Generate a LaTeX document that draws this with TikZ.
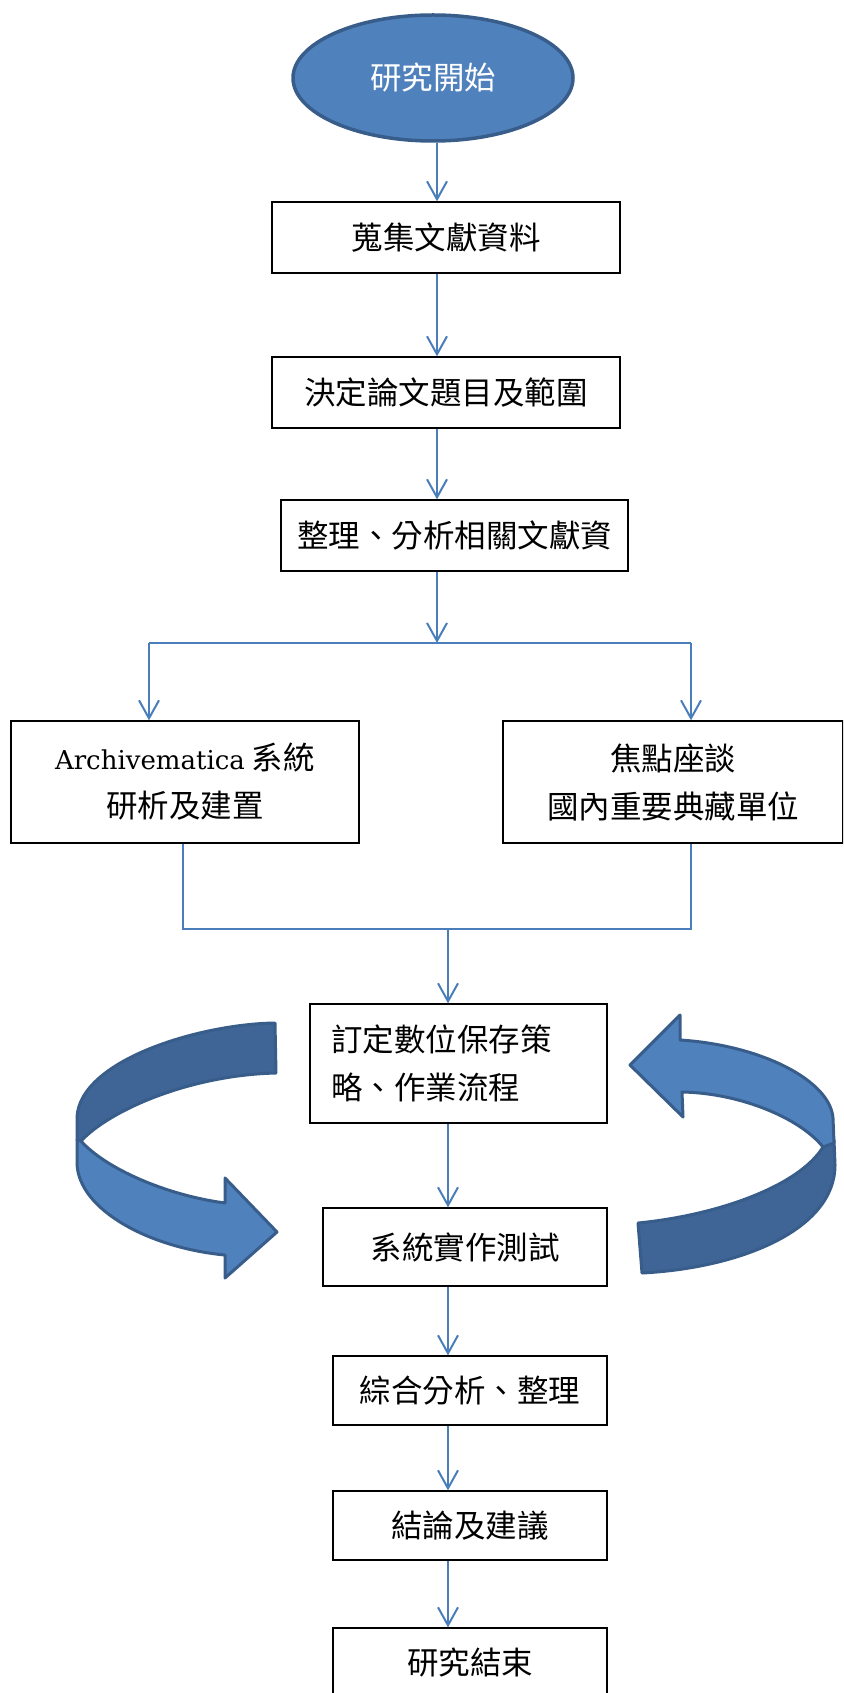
\documentclass[tikz,border=0pt]{standalone}
\usepackage{fontspec}
\newfontfamily\cjk{Noto Sans CJK TC}
\newfontfamily\latinserif{DejaVu Serif}
\usetikzlibrary{shapes.geometric,arrows.meta}
\definecolor{conn}{HTML}{4A7EBB}
\definecolor{fillblue}{HTML}{4F81BD}
\definecolor{darkblue}{HTML}{3E6595}
\definecolor{edgeblue}{HTML}{385D8A}
\tikzset{
  box/.style={draw=black, line width=1.3pt, fill=white, inner sep=0pt,
    font=\cjk\fontsize{31.5}{48}\selectfont},
  arr/.style={draw=conn, line width=2pt, -{Straight Barb[length=18pt,width=20pt]}},
  ln/.style={draw=conn, line width=1.6pt},
  band/.style={draw=edgeblue, line width=3pt, line join=round},
}
\begin{document}
\begin{tikzpicture}[x=1pt,y=-1pt]
\useasboundingbox (0,0) rectangle (843,1693);
\clip (0,0) rectangle (843,1693);

% curved arrows
\draw[band, fill=darkblue] (275,1023) .. controls (200,1024) and (80,1060) .. (77,1117)
  -- (77,1140) -- (81,1141) .. controls (110,1110) and (190,1075) .. (276,1073) -- cycle;
\draw[band, fill=fillblue] (81,1141) .. controls (105,1168) and (165,1195) .. (225,1203)
  -- (225,1178) -- (277,1232) -- (225,1278) -- (225,1255)
  .. controls (150,1248) and (78,1210) .. (77,1163) -- (77,1140) -- cycle;

\draw[band, fill=darkblue] (823,1147) .. controls (800,1185) and (720,1215) .. (638,1223)
  -- (642,1273) .. controls (740,1268) and (835,1230) .. (835,1165) -- (834,1140) -- cycle;
\draw[band, fill=fillblue] (680,1040) .. controls (760,1045) and (830,1080) .. (833,1118)
  -- (834,1143) -- (823,1147) .. controls (800,1118) and (740,1093) .. (682,1092)
  -- (683,1117) -- (630,1065) -- (680,1015) -- cycle;

% nodes
\node[ellipse, draw=edgeblue, line width=3.5pt, fill=fillblue, minimum width=280pt,
  minimum height=126pt, inner sep=0pt, text=white, font=\cjk\fontsize{31.5}{36}\selectfont]
  (start) at (433,78) {研究開始};
\node[box, minimum width=348pt, minimum height=71pt] (b1) at (446,237.5) {蒐集文獻資料};
\node[box, minimum width=348pt, minimum height=71pt] (b2) at (446,392.5) {決定論文題目及範圍};
\node[box, minimum width=347pt, minimum height=71pt] (b3) at (454.5,535.5) {整理、分析相關文獻資};
\node[box, minimum width=348pt, minimum height=122pt, align=center] (ar) at (185,782)
  {{\latinserif\fontsize{26}{48}\selectfont Archivematica} 系統\\研析及建置};
\node[box, minimum width=340pt, minimum height=122pt, align=center] (fg) at (673,782)
  {焦點座談\\國內重要典藏單位};
\node[box, minimum width=297pt, minimum height=119pt, text width=255pt, align=left] (b4)
  at (458.5,1063.5) {訂定數位保存策\\略、作業流程};
\node[box, minimum width=284pt, minimum height=78pt] (b5) at (465,1247) {系統實作測試};
\node[box, minimum width=274pt, minimum height=69pt] (b6) at (470,1390.5) {綜合分析、整理};
\node[box, minimum width=274pt, minimum height=69pt] (b7) at (470,1525.5) {結論及建議};
\node[box, minimum width=274pt, minimum height=70pt] (b8) at (470,1663) {研究結束};

% coordinates
\coordinate (col) at (437,0);
\coordinate (col2) at (448,0);
\coordinate (split) at (437,643);
\coordinate (sl) at (149,643);
\coordinate (sr) at (691,643);
\coordinate (ml) at (183,929);
\coordinate (mr) at (691,929);
\coordinate (mm) at (448,929);

% connectors
\draw[arr] (start.south -| col) -- (b1.north -| col);
\draw[arr] (b1.south -| col) -- (b2.north -| col);
\draw[arr] (b2.south -| col) -- (b3.north -| col);
\draw[arr] (b3.south -| col) -- (split);
\draw[ln] (sl) -- (sr);
\draw[arr] (sl) -- (ar.north -| sl);
\draw[arr] (sr) -- (fg.north -| sr);
\draw[ln] (ar.south -| ml) -- (ml) -- (mr) -- (fg.south -| mr);
\draw[arr] (mm) -- (b4.north -| mm);
\draw[arr] (b4.south -| col2) -- (b5.north -| col2);
\draw[arr] (b5.south -| col2) -- (b6.north -| col2);
\draw[arr] (b6.south -| col2) -- (b7.north -| col2);
\draw[arr] (b7.south -| col2) -- (b8.north -| col2);
\end{tikzpicture}
\end{document}
